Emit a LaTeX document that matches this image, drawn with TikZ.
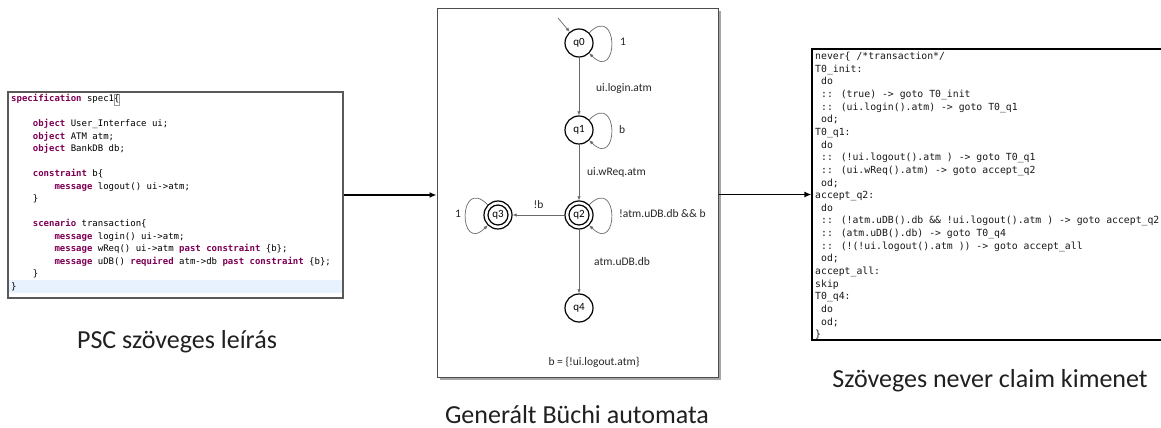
\documentclass[tikz,border=0pt]{standalone}
\usepackage{fontspec}
\setmainfont{Carlito}
\newfontfamily\codefont{DejaVu Sans Mono}
\usetikzlibrary{arrows.meta}
\definecolor{kwc}{HTML}{7F0055}
\definecolor{hl}{HTML}{E8F2FE}
\definecolor{edgec}{HTML}{6A6A6A}
\definecolor{capc}{HTML}{202020}
\newcommand\kw[1]{\textcolor{kwc}{\bfseries #1}}
\newcommand\ind[1]{\hphantom{#1}}
\begin{document}
\begin{tikzpicture}[x=1pt,y=1pt,
  panel/.style={draw, inner sep=0pt},
  bigarrow/.style={line width=1.5pt, -{Latex[length=7pt,width=6pt]}},
  state/.style={circle, draw=black, line width=1.2pt, minimum size=28pt, inner sep=0pt, font=\fontsize{11}{13}\selectfont},
  trans/.style={draw=edgec, line width=0.7pt, -{Latex[length=4pt,width=3.5pt]}, shorten >=0pt},
  selfloop/.style={trans, distance=42pt},
  lbl/.style={font=\fontsize{11.5}{13}\selectfont, text=black!85, inner sep=0pt},
  caption/.style={font=\fontsize{26}{30}\selectfont, text=capc, inner sep=0pt, anchor=base},
  code/.style={anchor=north west, align=left, inner sep=0pt},
]
\useasboundingbox (0,0) rectangle (1161,428);
\fill[white] (0,0) rectangle (1161,428);

% ---------- left panel: PSC text ----------
\fill[hl] (9,135) rectangle (342,148);
\node[panel, draw=black!65, line width=1.2pt, minimum width=335pt, minimum height=206pt] (psc) at (175.5,233) {};
\draw[black!40, line width=0.4pt] (113.8,323) rectangle (119.6,334);
\node[code, font=\codefont\fontsize{9}{12.5}\selectfont] (psctext) at (11,334) {%
\kw{specification} spec1\{\\
\mbox{}\\
\ind{xxxx}\kw{object} User\_Interface ui;\\
\ind{xxxx}\kw{object} ATM atm;\\
\ind{xxxx}\kw{object} BankDB db;\\
\mbox{}\\
\ind{xxxx}\kw{constraint} b\{\\
\ind{xxxxxxxx}\kw{message} logout() ui->atm;\\
\ind{xxxx}\}\\
\mbox{}\\
\ind{xxxx}\kw{scenario} transaction\{\\
\ind{xxxxxxxx}\kw{message} login() ui->atm;\\
\ind{xxxxxxxx}\kw{message} wReq() ui->atm \kw{past} \kw{constraint} \{b\};\\
\ind{xxxxxxxx}\kw{message} uDB() \kw{required} atm->db \kw{past} \kw{constraint} \{b\};\\
\ind{xxxx}\}\\
\}};

% ---------- middle panel: Buchi automaton ----------
\fill[black!35] (439.5,47.5) rectangle (720.5,416.5);
\node[panel, draw=black!70, line width=1pt, fill=white, minimum width=281pt, minimum height=369pt] (buchi) at (577.5,234.5) {};

\node[state] (q0) at (579,385) {q0};
\node[state] (q1) at (579,298) {q1};
\node[state] (q2) at (579,213) {q2};
\node[state] (q3) at (498,213) {q3};
\node[state] (q4) at (579,120) {q4};
\draw[black, line width=1.2pt] (q2.center) circle (10pt);
\draw[black, line width=1.2pt] (q3.center) circle (10pt);

\coordinate (init) at (558,410);
\draw[trans] (init) -- (q0);
\draw[trans] (q0) -- (q1);
\draw[trans] (q1) -- (q2);
\draw[trans] (q2) -- node[lbl, above=6pt] (lnb) {!b} (q3);
\draw[trans] (q2) -- (q4);
\draw[selfloop] (q0) to[out=45, in=-45] (q0);
\draw[selfloop] (q1) to[out=45, in=-45] (q1);
\draw[selfloop] (q2) to[out=45, in=-45] (q2);
\draw[selfloop] (q3) to[out=135, in=-135] (q3);

\node[lbl, anchor=west] (l1) at (620,386) {1};
\node[lbl, anchor=west] (l2) at (596,339) {ui.login.atm};
\node[lbl, anchor=west] (l3) at (619,298) {b};
\node[lbl, anchor=west] (l4) at (587,256) {ui.wReq.atm};
\node[lbl, anchor=west] (l5) at (619,214) {!atm.uDB.db \&\& b};
\node[lbl, anchor=west] (l6) at (594,166) {atm.uDB.db};
\node[lbl] (l7) at (458,214) {1};
\node[lbl] (legend) at (594,66) {b = \{!ui.logout.atm\}};

% ---------- right panel: never claim ----------
\node[panel, draw=black, line width=1.2pt, minimum width=356pt, minimum height=291pt] (never) at (990,233.5) {};
\node[code, font=\codefont\fontsize{9.8}{12.64}\selectfont, text=black!90] (nevertext) at (815,376) {%
never\{ /*transaction*/\\
T0\_init:\\
\ind{x}do\\
\ind{x}:: (true) -> goto T0\_init\\
\ind{x}:: (ui.login().atm) -> goto T0\_q1\\
\ind{x}od;\\
T0\_q1:\\
\ind{x}do\\
\ind{x}:: (!ui.logout().atm ) -> goto T0\_q1\\
\ind{x}:: (ui.wReq().atm) -> goto accept\_q2\\
\ind{x}od;\\
accept\_q2:\\
\ind{x}do\\
\ind{x}:: (!atm.uDB().db \&\& !ui.logout().atm ) -> goto accept\_q2\\
\ind{x}:: (atm.uDB().db) -> goto T0\_q4\\
\ind{x}:: (!(!ui.logout().atm )) -> goto accept\_all\\
\ind{x}od;\\
accept\_all:\\
skip\\
T0\_q4:\\
\ind{x}do\\
\ind{x}od;\\
\}};

% ---------- connecting arrows ----------
\draw[bigarrow] (psc.east) -- (psc.east -| buchi.west);
\draw[bigarrow] (buchi.east |- never.west) -- (never.west);

% ---------- captions ----------
\node[caption] (c1) at (177,79) {PSC szöveges leírás};
\node[caption] (c2) at (577,5) {Generált Büchi automata};
\node[caption] (c3) at (990,40) {Szöveges never claim kimenet};
\end{tikzpicture}
\end{document}
